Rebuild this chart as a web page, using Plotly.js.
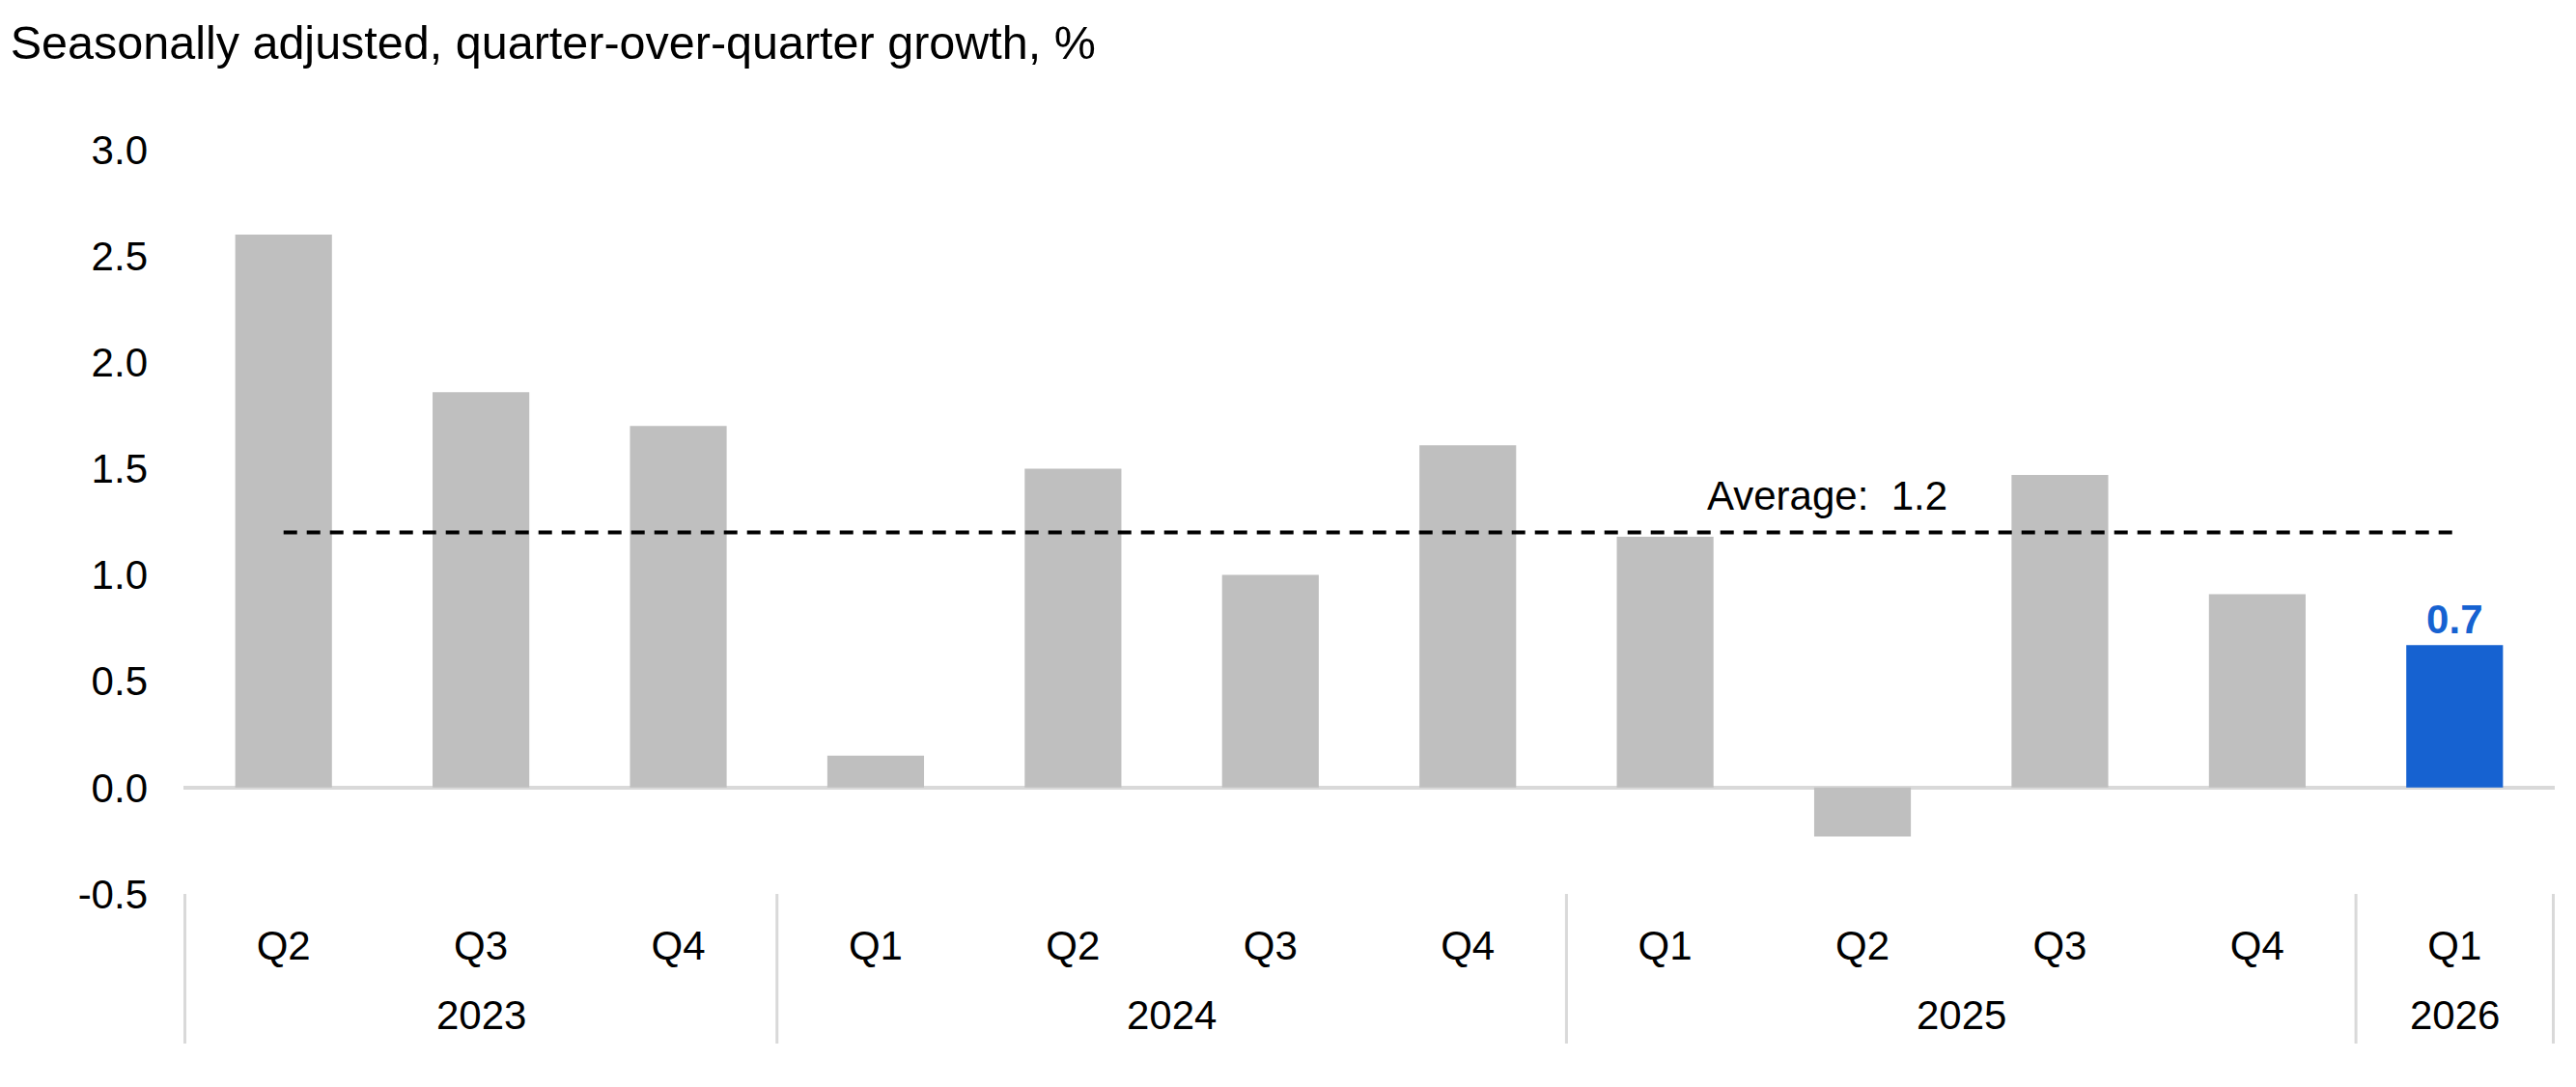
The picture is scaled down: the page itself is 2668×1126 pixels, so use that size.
<!DOCTYPE html>
<html>
<head>
<meta charset="utf-8">
<script src="https://cdn.plot.ly/plotly-3.0.1.min.js"></script>
<style>
  html, body { margin: 0; padding: 0; background: #fff; }
  #graph { width: 2668px; height: 1126px; }
</style>
</head>
<body>
<div id="graph"></div>
<script>
// chart data
const years    = ['2023', '2023', '2023', '2024', '2024', '2024', '2024', '2025', '2025', '2025', '2025', '2026'];
const quarters = ['Q2', 'Q3', 'Q4', 'Q1', 'Q2', 'Q3', 'Q4', 'Q1', 'Q2', 'Q3', 'Q4', 'Q1'];
const growth   = [2.6, 1.86, 1.70, 0.15, 1.50, 1.00, 1.61, 1.18, -0.23, 1.47, 0.91, 0.67];
const average  = 1.2;
const yTicks   = [-0.5, 0, 0.5, 1.0, 1.5, 2.0, 2.5, 3.0];

const grey = '#BFBFBF';
const blue = '#1662D1';
const divider = '#D9D9D9';
const font = 'Liberation Sans, Arial, sans-serif';

const last = growth.length - 1;
// one unique category per bar, quarters shown as tick text
const cats = years.map((y, i) => y + ' ' + quarters[i]);

plot();

// year groups -> [{year, start, end}] by index
function yearGroups() {
  const groups = [];
  years.forEach((y, i) => {
    const g = groups[groups.length - 1];
    if (g && g.year === y) g.end = i;
    else groups.push({ year: y, start: i, end: i });
  });
  return groups;
}

function plot() {
  const barColors = growth.map((v, i) => i === last ? blue : grey);
  const barText = growth.map((v, i) => i === last ? v.toFixed(1) : '');

  const bars = {
    type: 'bar',
    x: cats,
    y: growth,
    marker: { color: barColors },
    text: barText,
    textposition: 'outside',
    textfont: { family: font, size: 42, color: blue, weight: 'bold' },
    cliponaxis: false,
    hoverinfo: 'skip'
  };

  // dashed average line, first bar to last bar
  const avgLine = {
    type: 'scatter',
    mode: 'lines',
    x: [cats[0], cats[last]],
    y: [average, average],
    line: { color: '#000', width: 4, dash: '14px,10px' },
    hoverinfo: 'skip'
  };

  const groups = yearGroups();
  const yearY = -0.163;   // paper units below the plot
  const divBottom = -0.201;

  const shapes = [];
  groups.forEach((g, k) => {
    if (k === 0) {
      shapes.push({ type: 'line', xref: 'x', yref: 'paper', x0: g.start - 0.5, x1: g.start - 0.5,
        y0: 0, y1: divBottom, line: { color: divider, width: 3 } });
    }
    shapes.push({ type: 'line', xref: 'x', yref: 'paper', x0: g.end + 0.5, x1: g.end + 0.5,
      y0: 0, y1: divBottom, line: { color: divider, width: 3 } });
  });

  const annotations = groups.map(g => ({
    xref: 'x', yref: 'paper',
    x: (g.start + g.end) / 2, y: yearY,
    yanchor: 'middle',
    text: g.year,
    showarrow: false,
    font: { family: font, size: 42, color: '#000' }
  }));

  annotations.push({
    xref: 'x', yref: 'y',
    x: 7.82, y: average,
    yshift: 38,
    text: 'Average:\u00a0 ' + average.toFixed(1),
    showarrow: false,
    font: { family: font, size: 42, color: '#000' }
  });

  const layout = {
    width: 2668,
    height: 1126,
    margin: { l: 190, r: 22, t: 155, b: 200, pad: 0 },
    paper_bgcolor: '#fff',
    plot_bgcolor: '#fff',
    showlegend: false,
    bargap: 0.51,
    font: { family: font, size: 42, color: '#000' },
    title: {
      text: 'Seasonally adjusted, quarter-over-quarter growth, %',
      font: { family: font, size: 48.5, color: '#000' },
      xref: 'container', x: 0.004, xanchor: 'left',
      yref: 'container', y: 0.961, yanchor: 'middle'
    },
    xaxis: {
      type: 'category',
      tickvals: cats,
      ticktext: quarters,
      showgrid: false,
      zeroline: false,
      showline: false,
      ticks: '',
      ticklabelstandoff: 25,
      tickfont: { family: font, size: 42, color: '#000' }
    },
    yaxis: {
      range: [-0.5, 3.0],
      tickvals: yTicks,
      ticktext: yTicks.map(v => v.toFixed(1)),
      showgrid: false,
      showline: false,
      ticks: '',
      ticklabelstandoff: 36,
      zeroline: true,
      zerolinecolor: divider,
      zerolinewidth: 4,
      tickfont: { family: font, size: 42, color: '#000' }
    },
    shapes: shapes,
    annotations: annotations
  };

  Plotly.newPlot('graph', [bars, avgLine], layout, { displayModeBar: false, staticPlot: true });
}
</script>
</body>
</html>
